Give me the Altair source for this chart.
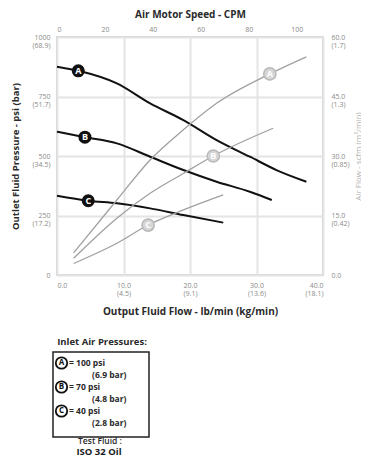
import altair as alt
import pandas as pd

FONT = "Open Sans"

# ---- outlet fluid pressure curves (psi) vs output fluid flow (lb/min)
flow_A = [0, 3.2, 9, 14, 19, 24, 29, 33, 37.5]
psi_A = [875, 858, 805, 721, 651, 567, 497, 441, 392]
flow_B = [0, 4.2, 9, 14, 19, 24, 29, 32.3]
psi_B = [602, 579, 553, 497, 441, 392, 350, 315]
flow_C = [0, 4.7, 9, 14, 19, 25]
psi_C = [333, 312, 301, 280, 252, 220]

# ---- air flow curves (scfm) vs output fluid flow
air_flow_A = [2.5, 9, 14, 19, 24, 32, 37.5]
scfm_A = [5.6, 18.9, 29.0, 36.6, 43.3, 50.7, 55.0]
air_flow_B = [2.5, 9, 14, 19, 23.5, 32.5]
scfm_B = [4.2, 14.3, 20.6, 25.6, 30.0, 37.0]
air_flow_C = [2.5, 9, 13.7, 19, 25]
scfm_C = [2.9, 8.0, 12.6, 16.4, 20.2]

curve_names = ["A", "B", "C"]
press_label_flow = [3.2, 4.2, 4.7]
press_label_psi = [858, 579, 312]
air_label_flow = [32, 23.5, 13.7]
air_label_scfm = [50.7, 30.0, 12.6]

# ---- tick labels
x_ticks = [0, 10, 20, 30, 40]
x_line1 = ["0.0", "10.0", "20.0", "30.0", "40.0"]
x_line2 = ["", "(4.5)", "(9.1)", "(13.6)", "(18.1)"]
y_ticks = [0, 250, 500, 750, 1000]
y_line1 = ["0", "250", "500", "750", "1000"]
y_line2 = ["", "(17.2)", "(34.5)", "(51.7)", "(68.9)"]
r_ticks = [0, 15, 30, 45, 60]
r_line1 = ["0.0", "15.0", "30.0", "45.0", "60.0"]
r_line2 = ["", "(0.42)", "(0.85)", "(1.3)", "(1.7)"]
cpm_ticks = [0, 20, 40, 60, 80, 100]
cpm_domain = [0, 111]

legend_title = "Inlet Air Pressures:"
legend_psi = ["= 100 psi", "= 70 psi", "= 40 psi"]
legend_bar = ["(6.9 bar)", "(4.8 bar)", "(2.8 bar)"]
fluid_line1 = "Test Fluid :"
fluid_line2 = "ISO 32 Oil"

W, H = 266, 238


def two_line_expr(vals, first, second):
    parts = []
    for v, a, b in zip(vals, first, second):
        if b:
            parts.append(f"datum.value == {v} ? ['{a}', '{b}']")
        else:
            parts.append(f"datum.value == {v} ? '{a}'")
    return " : ".join(parts) + " : ''"


press_df = pd.concat([
    pd.DataFrame({"flow": f, "psi": p, "curve": c})
    for f, p, c in zip([flow_A, flow_B, flow_C], [psi_A, psi_B, psi_C], curve_names)
])
air_df = pd.concat([
    pd.DataFrame({"flow": f, "scfm": s, "curve": c})
    for f, s, c in zip([air_flow_A, air_flow_B, air_flow_C], [scfm_A, scfm_B, scfm_C], curve_names)
])
press_lab = pd.DataFrame({"flow": press_label_flow, "psi": press_label_psi, "curve": curve_names})
air_lab = pd.DataFrame({"flow": air_label_flow, "scfm": air_label_scfm, "curve": curve_names})
cpm_df = pd.DataFrame({"cpm": cpm_domain})

xscale = alt.Scale(domain=[0, 40], nice=False, zero=False)
yscale = alt.Scale(domain=[0, 1000], nice=False)
rscale = alt.Scale(domain=[0, 60], nice=False)

common_axis = dict(labelFont=FONT, titleFont=FONT, labelColor="#8a8a8a", labelFontSize=7,
                   domain=False, ticks=False, labelLineHeight=8)

bottom_axis = alt.Axis(values=x_ticks, labelExpr=two_line_expr(x_ticks, x_line1, x_line2),
                       grid=True, gridColor="#e4e4e4", gridWidth=2, labelPadding=6,
                       title="Output Fluid Flow - lb/min  (kg/min)", titleX=133, titleY=36,
                       titleAlign="center", titleBaseline="middle", titleFontSize=10,
                       titleFontWeight="bold", titleColor="#2a2a2a", **common_axis)
left_axis = alt.Axis(values=y_ticks, labelExpr=two_line_expr(y_ticks, y_line1, y_line2),
                     grid=True, gridColor="#e4e4e4", gridWidth=2, labelPadding=7,
                     labelBaseline="top", labelOffset=-4,
                     title="Outlet Fluid Pressure - psi (bar)", titleX=-42, titleY=119,
                     titleAngle=270, titleAlign="center", titleBaseline="middle",
                     titleFontSize=9.5, titleFontWeight="bold", titleColor="#2a2a2a", **common_axis)
right_axis = alt.Axis(orient="right", values=r_ticks, labelExpr=two_line_expr(r_ticks, r_line1, r_line2),
                      grid=False, labelPadding=8, labelAlign="left", labelBaseline="top", labelOffset=-4,
                      title="Air Flow - scfm (m\u00b3/min)", titleX=35, titleY=119, titleAngle=270,
                      titleAlign="center", titleBaseline="middle", titleFontSize=8,
                      titleFontWeight="normal", titleColor="#b0b0b0", **common_axis)
top_axis = alt.Axis(orient="top", values=cpm_ticks, grid=False, labelPadding=5,
                    title="Air Motor Speed  - CPM", titleX=133, titleY=-23, titleAlign="center",
                    titleBaseline="middle", titleFontSize=10, titleFontWeight="bold",
                    titleColor="#2a2a2a", **common_axis)

press_lines = alt.Chart(press_df).mark_line(color="#111111", strokeWidth=2, interpolate="monotone").encode(
    x=alt.X("flow:Q", scale=xscale, axis=bottom_axis),
    y=alt.Y("psi:Q", scale=yscale, axis=left_axis),
    detail="curve:N",
)
press_pts = alt.Chart(press_lab).mark_circle(size=170, color="#111111", opacity=1).encode(
    x="flow:Q", y="psi:Q")
press_txt = alt.Chart(press_lab).mark_text(color="white", font=FONT, fontWeight="bold", fontSize=9).encode(
    x="flow:Q", y="psi:Q", text="curve:N")


def txt(s, x, y, size=8.5, weight="bold", align="left", color="#2a2a2a"):
    return alt.Chart(pd.DataFrame({"t": [s]})).mark_text(
        font=FONT, fontSize=size, fontWeight=weight, align=align, baseline="middle", color=color
    ).encode(x=alt.value(x), y=alt.value(y), text="t:N")


legend_marks = [txt(legend_title, 45, 305, size=9.5, align="center")]
legend_marks.append(
    alt.Chart(pd.DataFrame({"t": [""]})).mark_rect(fillOpacity=0, stroke="#222222", strokeWidth=1.5).encode(
        x=alt.value(-4), x2=alt.value(92), y=alt.value(315), y2=alt.value(400))
)
for i, (name, p, b) in enumerate(zip(curve_names, legend_psi, legend_bar)):
    yy = 326 + 24 * i
    legend_marks.append(
        alt.Chart(pd.DataFrame({"t": [name]})).mark_point(
            size=130, filled=True, fill="white", stroke="#111111", strokeWidth=1.8, opacity=1, shape="circle"
        ).encode(x=alt.value(4.5), y=alt.value(yy))
    )
    legend_marks.append(txt(name, 4.5, yy, size=8, align="center", color="#111111"))
    legend_marks.append(txt(p, 12, yy, size=8.5))
    legend_marks.append(txt(b, 35, yy + 12, size=8.5))
legend_marks.append(txt(fluid_line1, 43, 404, size=8.5, weight=600, align="center"))
legend_marks.append(txt(fluid_line2, 42, 415, size=9.5, align="center", color="#1a1a1a"))

press = alt.layer(press_lines, press_pts, press_txt, *legend_marks)

air_lines = alt.Chart(air_df).mark_line(color="#a0a0a0", strokeWidth=1.3, interpolate="monotone").encode(
    x=alt.X("flow:Q", scale=xscale, axis=None),
    y=alt.Y("scfm:Q", scale=rscale, axis=right_axis),
    detail="curve:N",
)
air_pts = alt.Chart(air_lab).mark_point(size=150, filled=True, fill="#d6d6d6", stroke="#b8b8b8",
                                        strokeWidth=1.5, opacity=1, shape="circle").encode(
    x="flow:Q", y="scfm:Q")
air_txt = alt.Chart(air_lab).mark_text(color="white", font=FONT, fontWeight="bold", fontSize=9).encode(
    x="flow:Q", y="scfm:Q", text="curve:N")
air = alt.layer(air_lines, air_pts, air_txt)

top = alt.Chart(cpm_df).mark_point(opacity=0).encode(
    x=alt.X("cpm:Q", scale=alt.Scale(domain=cpm_domain, nice=False), axis=top_axis),
    y=alt.Y("cpm:Q", axis=None),
)

chart = alt.layer(press, air, top).resolve_scale(x="independent", y="independent").properties(
    width=W, height=H,
    autosize=alt.AutoSizeParams(type="none"),
    padding={"left": 49, "top": 29, "right": 38, "bottom": 183},
    background="white",
).configure_view(stroke="#c4c4c4", strokeWidth=1.5)

chart.save("out.html", embed_options={"renderer": "svg", "actions": False})
